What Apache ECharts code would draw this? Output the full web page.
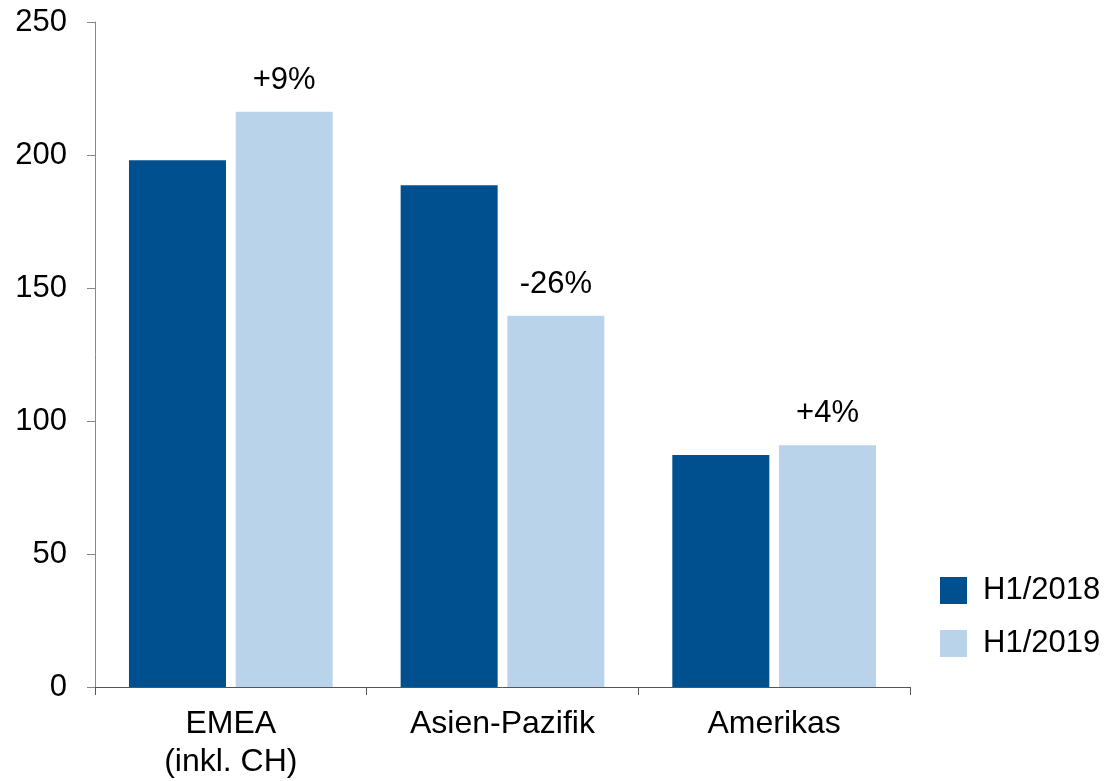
<!DOCTYPE html>
<html>
<head>
<meta charset="utf-8">
<script src="https://cdn.jsdelivr.net/npm/echarts@6/dist/echarts.min.js"></script>
<style>
html,body{margin:0;padding:0;background:#fff;}
#chart{width:1107px;height:781px;}
</style>
</head>
<body>
<div id="chart"></div>
<script>
const categories = ['EMEA\n(inkl. CH)', 'Asien-Pazifik', 'Amerikas'];
const seriesNames = ['H1/2018', 'H1/2019'];
const values2018 = [198, 188.6, 87.2];
const values2019 = [216.3, 139.6, 90.9];
const changes = ['+9%', '-26%', '+4%'];
const yTicks = { min: 0, max: 250, interval: 50 };

const FONT = '"Liberation Sans", Arial, sans-serif';
const chart = echarts.init(document.getElementById('chart'), null, { renderer: 'canvas' });
chart.setOption({
  animation: false,
  backgroundColor: '#ffffff',
  textStyle: { fontFamily: FONT },
  grid: { left: 95, right: 197, top: 22, bottom: 91, containLabel: false },
  legend: {
    orient: 'vertical',
    left: 935,
    top: 570,
    itemWidth: 27,
    itemHeight: 27,
    itemGap: 22,
    icon: 'rect',
    data: seriesNames,
    textStyle: { fontFamily: FONT, fontSize: 31, color: '#000', padding: [0, 0, 0, 11] }
  },
  xAxis: {
    type: 'category',
    data: categories,
    axisLine: { show: true, lineStyle: { color: '#555', width: 1 } },
    axisTick: { show: true, alignWithLabel: false, length: 8, lineStyle: { color: '#555' } },
    axisLabel: { fontFamily: FONT, fontSize: 32, color: '#000', margin: 18, lineHeight: 38, interval: 0 },
    splitLine: { show: false }
  },
  yAxis: {
    type: 'value',
    min: yTicks.min,
    max: yTicks.max,
    interval: yTicks.interval,
    axisLine: { show: true, lineStyle: { color: '#888', width: 1 } },
    axisTick: { show: true, length: 8, lineStyle: { color: '#888' } },
    axisLabel: { fontFamily: FONT, fontSize: 31, color: '#000', margin: 28 },
    splitLine: { show: false }
  },
  series: [
    {
      name: seriesNames[0],
      type: 'bar',
      data: values2018,
      barWidth: 97,
      barGap: '10%',
      itemStyle: { color: '#00508F' }
    },
    {
      name: seriesNames[1],
      type: 'bar',
      data: values2019,
      barWidth: 97,
      barGap: '10%',
      itemStyle: { color: '#B9D3EB' },
      label: {
        show: true,
        position: 'top',
        distance: 16,
        fontFamily: FONT,
        fontSize: 31,
        color: '#000',
        formatter: p => changes[p.dataIndex]
      }
    }
  ]
});
</script>
</body>
</html>
